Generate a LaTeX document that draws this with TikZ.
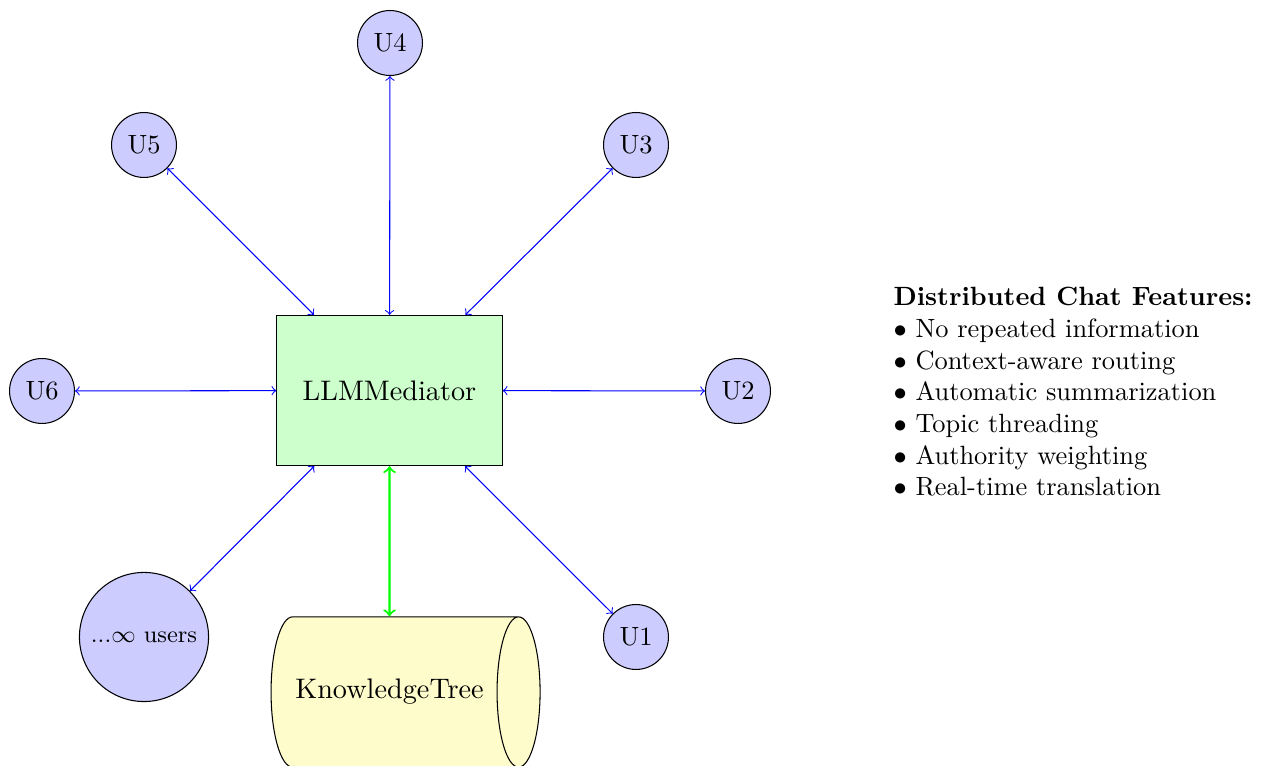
\documentclass[tikz,border=0pt]{standalone}
\usetikzlibrary{shapes.geometric}
\begin{document}
\begin{tikzpicture}[x=0.37879pt,y=-0.37879pt,
  usernode/.style={circle,draw,fill=blue!20,minimum size=24.6pt,inner sep=0pt},
  link/.style={<->,blue},
  kblink/.style={<->,green,thick},
  bigtext/.style={font=\fontsize{10.7}{13}\selectfont}]
\useasboundingbox (0,0) rectangle (1262,766);
\clip (0,0) rectangle (1262,766);
\node[draw,fill=green!20,minimum width=3cm,minimum height=2cm,inner sep=0pt,bigtext] (med) at (389.5,390.5) {LLMMediator};
\node[usernode] (u1) at (636,637) {U1};
\node[usernode] (u2) at (738,391) {U2};
\node[usernode] (u3) at (636,145) {U3};
\node[usernode] (u4) at (390,43) {U4};
\node[usernode] (u5) at (144,145) {U5};
\node[usernode] (u6) at (42,391) {U6};
\node[usernode,minimum size=48.9pt,font=\small] (inf) at (144,637) {...$\infty$ users};
\node[cylinder,draw,fill=yellow!20,minimum width=2cm,minimum height=101.9pt,bigtext] (tree) at (389.5,692) {KnowledgeTree};
\draw[link] (u1) -- (med);
\draw[link] (u2) -- (med);
\draw[link] (u3) -- (med);
\draw[link] (u4) -- (med);
\draw[link] (u5) -- (med);
\draw[link] (u6) -- (med);
\draw[link] (inf) -- (med);
\draw[kblink] (med) -- (tree);
\node[anchor=west,inner sep=0pt,align=left] (legend) at (893,392) {\textbf{Distributed Chat Features:}\\
$\bullet$ No repeated information\\
$\bullet$ Context-aware routing\\
$\bullet$ Automatic summarization\\
$\bullet$ Topic threading\\
$\bullet$ Authority weighting\\
$\bullet$ Real-time translation};
\end{tikzpicture}
\end{document}
